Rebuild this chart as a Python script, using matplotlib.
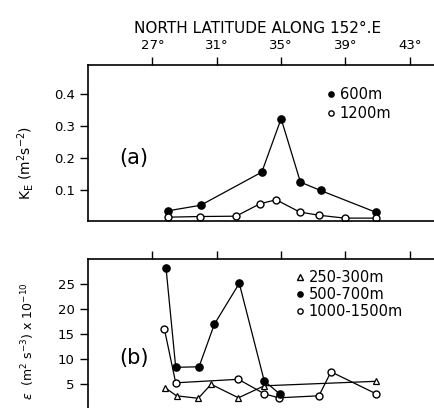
import matplotlib
matplotlib.use("Agg")
import matplotlib.pyplot as plt
from matplotlib.lines import Line2D

plt.rcParams['font.family'] = ['DejaVu Sans']

# Panel (a): eddy kinetic energy
lat_600 = [28.0, 30.0, 33.8, 35.0, 36.2, 37.45, 40.9]
ke_600 = [0.037, 0.054, 0.157, 0.323, 0.126, 0.100, 0.032]
lat_1200 = [28.0, 29.95, 32.2, 33.7, 34.7, 36.15, 37.35, 38.95, 40.9]
ke_1200 = [0.017, 0.019, 0.020, 0.059, 0.071, 0.033, 0.023, 0.014, 0.014]

# Panel (b): dissipation
lat_250 = [27.8, 28.5, 29.85, 30.65, 32.35, 33.95, 40.9]
eps_250 = [4.3, 2.7, 2.2, 5.0, 2.3, 4.7, 5.6]
lat_500 = [27.85, 28.45, 29.9, 30.85, 32.4, 33.95, 34.9]
eps_500 = [28.2, 8.4, 8.5, 17.0, 25.2, 5.7, 3.1]
lat_1000 = [27.75, 28.45, 32.35, 33.95, 34.85, 37.35, 38.1, 40.9]
eps_1000 = [16.0, 5.3, 6.0, 3.1, 2.3, 2.7, 7.5, 3.1]

lat_ticks = [27, 31, 35, 39, 43]
lat_labels = ['27°', '31°', '35°', '39°', '43°']
ke_ticks = [0.1, 0.2, 0.3, 0.4]
ke_labels = ['0.1', '0.2', '0.3', '0.4']
eps_ticks = [5, 10, 15, 20, 25]

W, H = 434, 408
fig = plt.figure(figsize=(W / 100, H / 100), dpi=100)

left = 88 / W
width = (W - 88) / W
ax1 = fig.add_axes([left, (H - 220.7) / H, width, (220.7 - 65) / H])
ax2 = fig.add_axes([left, (H - 409.3) / H, width, 150 / H])

lw = 0.9
for ax in (ax1, ax2):
    ax.set_xlim(23.0, 44.5)
    ax.spines['right'].set_visible(False)
    for s in ('left', 'top', 'bottom'):
        ax.spines[s].set_linewidth(1.2)
    ax.xaxis.tick_top()
    ax.set_xticks(lat_ticks)
    ax.tick_params(axis='both', direction='out', length=6, width=1.0,
                   labelsize=9.5)
    ax.tick_params(axis='x', top=True, bottom=False)

ax1.set_xticklabels(lat_labels, fontsize=9.5)
ax2.set_xticklabels([])

# Panel (a)
ax1.set_ylim(0.006, 0.49)
ax1.set_yticks(ke_ticks)
ax1.set_yticklabels(ke_labels)
ax1.plot(lat_600, ke_600, '-o', color='black', lw=lw, ms=5.2,
         mfc='black', mec='black')
ax1.plot(lat_1200, ke_1200, '-o', color='black', lw=lw, ms=5.0,
         mfc='white', mec='black', mew=1.0)
ax1.text(25.85, 0.20, '(a)', fontsize=15, ha='center', va='center')
ax1.set_ylabel(r'K$_\mathrm{E}$ (m$^2$s$^{-2}$)', fontsize=10)
ax1.yaxis.set_label_coords(-0.15, 0.37)
ax1.set_title('NORTH LATITUDE ALONG 152°.E', fontsize=11, pad=23, x=0.49)

h1 = [Line2D([], [], ls='none', marker='o', ms=3.8, mfc='black', mec='black'),
      Line2D([], [], ls='none', marker='o', ms=3.8, mfc='white', mec='black')]
ax1.legend(h1, ['600m', '1200m'], loc='upper left',
           bbox_to_anchor=(0.69, 0.86), frameon=False, fontsize=10.5,
           handlelength=0.6, handletextpad=0.3, labelspacing=0.3,
           borderpad=0, borderaxespad=0)

# Panel (b)
ax2.set_ylim(0, 30)
ax2.set_yticks(eps_ticks)
ax2.plot(lat_250, eps_250, '-^', color='black', lw=lw, ms=4.5,
         mfc='white', mec='black', mew=0.9)
ax2.plot(lat_1000, eps_1000, '-o', color='black', lw=lw, ms=5.0,
         mfc='white', mec='black', mew=1.0)
ax2.plot(lat_500, eps_500, '-o', color='black', lw=lw, ms=5.2,
         mfc='black', mec='black')
ax2.text(25.85, 10.3, '(b)', fontsize=15, ha='center', va='center')
ax2.set_ylabel(r'$\epsilon$  (m$^2$ s$^{-3}$) x 10$^{-10}$', fontsize=9)
ax2.yaxis.set_label_coords(-0.147, 0.455)

h2 = [Line2D([], [], ls='none', marker='^', ms=3.8, mfc='white', mec='black'),
      Line2D([], [], ls='none', marker='o', ms=3.8, mfc='black', mec='black'),
      Line2D([], [], ls='none', marker='o', ms=3.8, mfc='white', mec='black')]
ax2.legend(h2, ['250-300m', '500-700m', '1000-1500m'], loc='upper left',
           bbox_to_anchor=(0.6, 0.93), frameon=False, fontsize=10.5,
           handlelength=0.6, handletextpad=0.3, labelspacing=0.15,
           borderpad=0, borderaxespad=0)

fig.savefig('out.png', dpi=100)
